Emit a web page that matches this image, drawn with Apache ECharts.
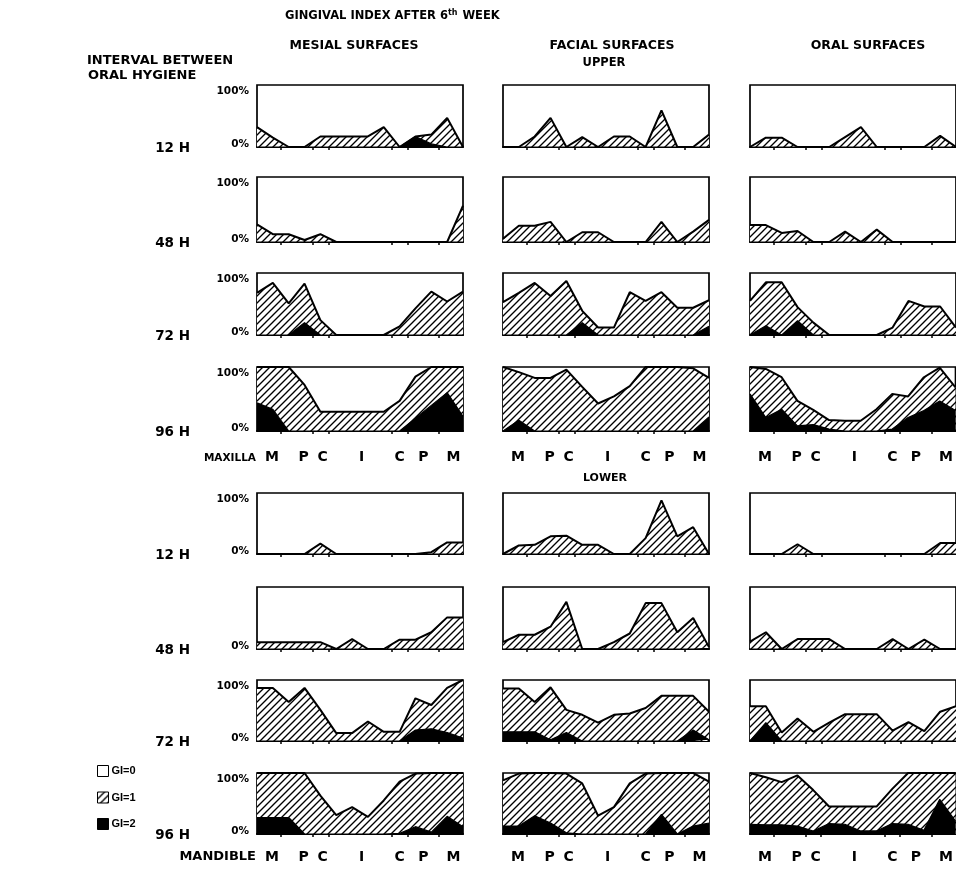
<!DOCTYPE html>
<html><head><meta charset="utf-8">
<script src="https://cdn.jsdelivr.net/npm/echarts@6/dist/echarts.min.js"></script>
<style>html,body{margin:0;padding:0;background:#fff}#c{width:956px;height:873px}</style>
</head><body><div id="c"></div>
<script>
// ---------- data ----------
const teeth = ['M','M','P','P','C','I','I','I','I','C','P','P','M','M'];
const intervals = ['12 H','48 H','72 H','96 H'];
const surfaces = ['MESIAL SURFACES','FACIAL SURFACES','ORAL SURFACES'];
const groupLabels = ['M','P','C','I','C','P','M'];
const groupLabelPos = [0.95, 2.95, 4.15, 6.6, 9.0, 10.5, 12.4];
const groupBoundaries = [1.5, 3.5, 4.5, 8.5, 9.5, 11.5];
const yTickLabels = ['0%','100%'];

// Upper jaw (maxilla) — % of surfaces with GI>=1 (gi1) and GI=2 (gi2)
const upMes12_gi1 = [32,15,0,0,17,17,17,17,32,0,17,20,47,0];
const upMes12_gi2 = [0,0,0,0,0,0,0,0,0,0,17,5,0,0];
const upMes48_gi1 = [27,12,12,3,12,0,0,0,0,0,0,0,0,56];
const upMes48_gi2 = [0,0,0,0,0,0,0,0,0,0,0,0,0,0];
const upMes72_gi1 = [68,84,51,83,24,0,0,0,0,14,43,70,54,70];
const upMes72_gi2 = [0,0,0,20,0,0,0,0,0,0,0,0,0,0];
const upMes96_gi1 = [100,100,100,72,30,30,30,30,30,47,85,100,100,100];
const upMes96_gi2 = [44,34,0,0,0,0,0,0,0,0,20,40,60,23];

const upFac12_gi1 = [0,0,17,47,0,16,0,17,17,0,59,0,0,20];
const upFac12_gi2 = [0,0,0,0,0,0,0,0,0,0,0,0,0,0];
const upFac48_gi1 = [5,25,25,31,0,15,15,0,0,0,31,0,16,34];
const upFac48_gi2 = [0,0,0,0,0,0,0,0,0,0,0,0,0,0];
const upFac72_gi1 = [53,68,84,63,87,39,12,12,69,55,69,44,44,56];
const upFac72_gi2 = [0,0,0,0,0,20,0,0,0,0,0,0,0,14];
const upFac96_gi1 = [100,92,83,83,96,69,43,54,70,100,100,100,98,83];
const upFac96_gi2 = [0,17,0,0,0,0,0,0,0,0,0,0,0,22];

const upOra12_gi1 = [0,15,15,0,0,0,16,32,0,0,0,0,18,0];
const upOra12_gi2 = [0,0,0,0,0,0,0,0,0,0,0,0,0,0];
const upOra48_gi1 = [26,26,14,17,0,0,16,0,19,0,0,0,0,0];
const upOra48_gi2 = [0,0,0,0,0,0,0,0,0,0,0,0,0,0];
const upOra72_gi1 = [55,85,85,45,20,0,0,0,0,12,55,46,46,12];
const upOra72_gi2 = [0,15,0,23,0,0,0,0,0,0,0,0,0,0];
const upOra96_gi1 = [100,97,84,47,33,17,16,16,34,58,54,84,99,68];
const upOra96_gi2 = [58,21,34,8,10,3,0,0,0,3,21,32,47,32];

// Lower jaw (mandible)
const loMes12_gi1 = [0,0,0,0,17,0,0,0,0,0,0,3,19,19];
const loMes12_gi2 = [0,0,0,0,0,0,0,0,0,0,0,0,0,0];
const loMes48_gi1 = [11,11,11,11,11,0,16,0,0,15,15,27,51,51];
const loMes48_gi2 = [0,0,0,0,0,0,0,0,0,0,0,0,0,0];
const loMes72_gi1 = [87,87,64,87,51,13,13,32,15,15,70,59,87,100];
const loMes72_gi2 = [0,0,0,0,0,0,0,0,0,0,18,20,14,5];
const loMes96_gi1 = [100,100,100,100,63,31,44,28,55,86,99,100,100,100];
const loMes96_gi2 = [27,27,27,0,0,0,0,0,0,1,12,3,29,12];

const loFac12_gi1 = [0,14,15,29,30,15,15,0,0,26,88,29,44,0];
const loFac12_gi2 = [0,0,0,0,0,0,0,0,0,0,0,0,0,0];
const loFac48_gi1 = [11,23,23,36,76,0,0,11,25,74,74,27,50,3];
const loFac48_gi2 = [0,0,0,0,0,0,0,0,0,0,0,0,0,0];
const loFac72_gi1 = [86,86,64,88,51,43,30,43,45,54,74,74,74,48];
const loFac72_gi2 = [15,15,15,2,14,0,0,0,0,0,0,0,18,2];
const loFac96_gi1 = [88,99,100,100,99,83,30,44,83,99,100,100,100,86];
const loFac96_gi2 = [13,13,30,18,2,0,0,0,0,0,32,0,13,18];

const loOra12_gi1 = [0,0,0,16,0,0,0,0,0,0,0,0,18,18];
const loOra12_gi2 = [0,0,0,0,0,0,0,0,0,0,0,0,0,0];
const loOra48_gi1 = [12,27,0,16,16,16,0,0,0,16,0,15,0,0];
const loOra48_gi2 = [0,0,0,0,0,0,0,0,0,0,0,0,0,0];
const loOra72_gi1 = [57,57,14,37,15,30,44,44,44,17,31,16,48,57];
const loOra72_gi2 = [0,30,0,0,0,0,0,0,0,0,0,0,0,0];
const loOra96_gi1 = [100,93,85,96,72,45,45,45,45,74,100,100,100,100];
const loOra96_gi2 = [16,15,15,13,5,17,16,5,5,17,16,6,57,21];

// panels[row][col] = [gi1, gi2]
const panels = [
  [[upMes12_gi1,upMes12_gi2],[upFac12_gi1,upFac12_gi2],[upOra12_gi1,upOra12_gi2]],
  [[upMes48_gi1,upMes48_gi2],[upFac48_gi1,upFac48_gi2],[upOra48_gi1,upOra48_gi2]],
  [[upMes72_gi1,upMes72_gi2],[upFac72_gi1,upFac72_gi2],[upOra72_gi1,upOra72_gi2]],
  [[upMes96_gi1,upMes96_gi2],[upFac96_gi1,upFac96_gi2],[upOra96_gi1,upOra96_gi2]],
  [[loMes12_gi1,loMes12_gi2],[loFac12_gi1,loFac12_gi2],[loOra12_gi1,loOra12_gi2]],
  [[loMes48_gi1,loMes48_gi2],[loFac48_gi1,loFac48_gi2],[loOra48_gi1,loOra48_gi2]],
  [[loMes72_gi1,loMes72_gi2],[loFac72_gi1,loFac72_gi2],[loOra72_gi1,loOra72_gi2]],
  [[loMes96_gi1,loMes96_gi2],[loFac96_gi1,loFac96_gi2],[loOra96_gi1,loOra96_gi2]]
];

// ---------- layout ----------
const FONT = '"DejaVu Sans", "Liberation Sans", Arial, sans-serif';
const FONT2 = '"Liberation Sans", Arial, sans-serif';
const colLeft = [257, 503, 750];
const colW = 206;
const rowTop = [85, 177, 273, 367, 493, 587, 680, 773];
const rowH   = [62, 65, 62, 64, 61, 62, 61, 61];

function makeHatch(){
  const s = 7, c = document.createElement('canvas');
  c.width = s; c.height = s;
  const g = c.getContext('2d');
  g.fillStyle = '#fff'; g.fillRect(0,0,s,s);
  g.strokeStyle = '#000'; g.lineWidth = 1.35;
  g.beginPath();
  g.moveTo(0, s); g.lineTo(s, 0);
  g.moveTo(-1, 1); g.lineTo(1, -1);
  g.moveTo(s-1, s+1); g.lineTo(s+1, s-1);
  g.stroke();
  return c;
}
const hatch = { image: makeHatch(), repeat: 'repeat' };

const grids = [], xAxes = [], yAxes = [], series = [];
let gi = 0;
for (let r = 0; r < 8; r++) {
  for (let c = 0; c < 3; c++) {
    grids.push({ left: colLeft[c], top: rowTop[r], width: colW, height: rowH[r],
      show: true, borderColor: '#000', borderWidth: 1.7, backgroundColor: '#fff', containLabel: false });
    const showX = (r === 3 || r === 7);
    xAxes.push({ type: 'value', gridIndex: gi, min: 0, max: teeth.length - 1,
      axisLine: { show: true, lineStyle: { color: '#000', width: 2 } },
      axisTick: { show: true, customValues: groupBoundaries, length: 3, lineStyle: { color: '#000', width: 1.5 } },
      splitLine: { show: false },
      axisLabel: { show: showX, customValues: groupLabelPos, margin: r === 3 ? 19 : 16,
        formatter: (v) => { const k = groupLabelPos.indexOf(v); return k >= 0 ? groupLabels[k] : ''; },
        color: '#000', fontFamily: FONT, fontWeight: 'bold', fontSize: 14 }
    });
    const showY = (c === 0);
    yAxes.push({ type: 'value', gridIndex: gi, min: 0, max: 100, interval: 100,
      axisLine: { show: false }, axisTick: { show: false }, splitLine: { show: false },
      axisLabel: { show: showY, margin: 8, color: '#000', fontFamily: FONT, fontWeight: 'bold', fontSize: 10.5,
        formatter: (v) => {
          if (v === 100) return (r === 5) ? '' : '{t|' + yTickLabels[1] + '}';
          return '{b|' + yTickLabels[0] + '}';
        },
        rich: {
          t: { fontFamily: FONT, fontWeight: 'bold', fontSize: 10.5, color: '#000', padding: [12, 0, 0, 0] },
          b: { fontFamily: FONT, fontWeight: 'bold', fontSize: 10.5, color: '#000', padding: [0, 0, 6, 0] }
        } }
    });
    const [g1, g2] = panels[r][c];
    series.push({ type: 'line', name: 'GI=1', xAxisIndex: gi, yAxisIndex: gi,
      data: g1.map((v, k) => [k, v]), symbol: 'none', silent: true, z: 2,
      lineStyle: { color: '#000', width: 2 }, itemStyle: { color: '#000' },
      areaStyle: { color: hatch, opacity: 1 } });
    series.push({ type: 'line', name: 'GI=2', xAxisIndex: gi, yAxisIndex: gi,
      data: g2.map((v, k) => [k, v]), symbol: 'none', silent: true, z: 3,
      lineStyle: { color: '#000', width: 1.2 }, itemStyle: { color: '#000' },
      areaStyle: { color: '#000', opacity: 1 } });
    gi++;
  }
}
series.push({ type: 'line', name: 'GI=0', xAxisIndex: 0, yAxisIndex: 0, data: [], itemStyle: { color: '#fff' } });

const txt = (text, x, y, size, align, extra) => ({ type: 'text', silent: true,
  style: Object.assign({ text, x, y, fill: '#000', font: 'bold ' + size + 'px ' + FONT, align: align, verticalAlign: 'middle' }, extra || {}) });

const graphics = [
  { type: 'text', silent: true, style: { x: 285, y: 16, align: 'left', verticalAlign: 'middle',
      text: '{a|GINGIVAL INDEX AFTER 6}{s|th}{a| WEEK}',
      rich: { a: { font: 'bold 11.5px ' + FONT, fill: '#000' },
              s: { font: 'bold 8px ' + FONT, fill: '#000', padding: [0, 1, 7, 0] } } } },
  txt(surfaces[0], 354, 46, 12.5, 'center'),
  txt(surfaces[1], 612, 46, 12.5, 'center'),
  txt(surfaces[2], 868, 46, 12.5, 'center'),
  txt('INTERVAL BETWEEN', 87, 61, 13, 'left'),
  txt('ORAL HYGIENE', 88, 76, 13, 'left'),
  txt('UPPER', 604, 63, 11.5, 'center'),
  txt('MAXILLA', 256, 458, 10.5, 'right'),
  txt('LOWER', 605, 478, 11, 'center'),
  txt('MANDIBLE', 256, 857, 13, 'right')
];
for (let r = 0; r < 8; r++) {
  graphics.push(txt(intervals[r % 4], 190, rowTop[r] + rowH[r] + 1, 13.5, 'right'));
}

const option = {
  animation: false,
  backgroundColor: '#fff',
  grid: grids, xAxis: xAxes, yAxis: yAxes, series: series,
  legend: { orient: 'vertical', left: 97, top: 765, padding: 0, itemWidth: 11, itemHeight: 11, itemGap: 14.5,
    icon: 'rect', selectedMode: false,
    textStyle: { color: '#000', fontFamily: FONT2, fontWeight: 'bold', fontSize: 11, padding: [0,0,0,-2] },
    data: [
      { name: 'GI=0', itemStyle: { color: '#fff', borderColor: '#000', borderWidth: 1 } },
      { name: 'GI=1', itemStyle: { color: hatch, borderColor: '#000', borderWidth: 1 } },
      { name: 'GI=2', itemStyle: { color: '#000', borderColor: '#000', borderWidth: 1 } }
    ] },
  graphic: graphics
};
const chart = echarts.init(document.getElementById('c'), null, { renderer: 'canvas' });
chart.setOption(option);
</script></body></html>
